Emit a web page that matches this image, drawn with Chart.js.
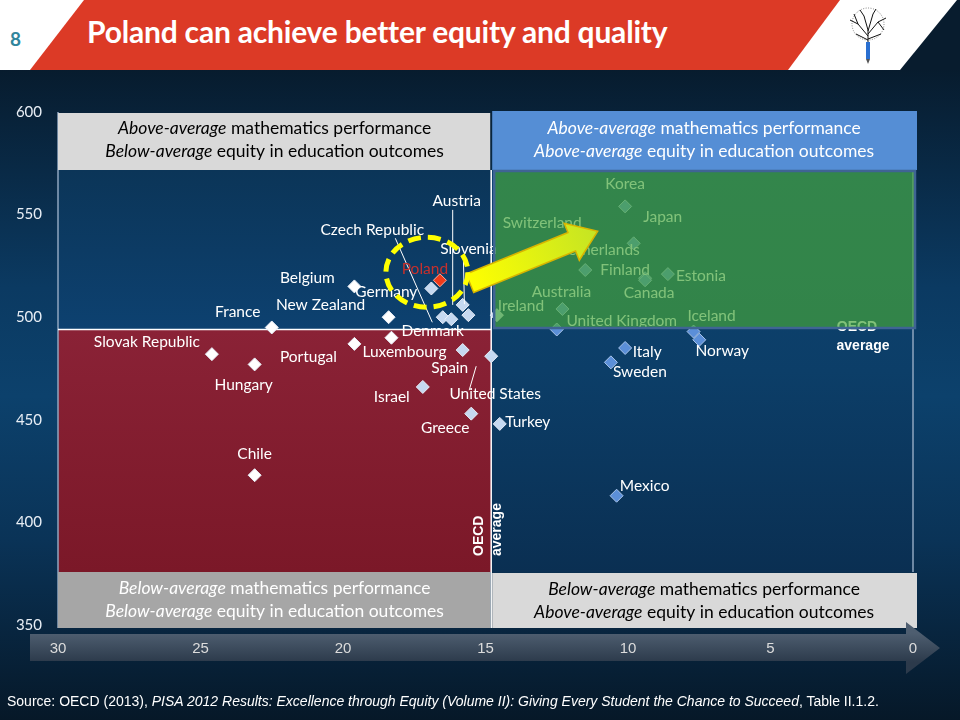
<!DOCTYPE html>
<html>
<head>
<meta charset="utf-8">
<script src="https://cdn.jsdelivr.net/npm/chart.js@4.4.0/dist/chart.umd.min.js"></script>
<style>
  html,body{margin:0;padding:0}
  body{width:960px;height:720px;position:relative;overflow:hidden;
    background:linear-gradient(180deg,#071a2b 8%,#0b3a62 40%,#0c416c 55%,#0a3357 75%,#061828 100%);
    font-family:Lato,"Open Sans",sans-serif}
  #head{position:absolute;left:0;top:0;width:960px;height:70px;background:#fff}
  #red{position:absolute;left:0;top:0;width:960px;height:70px;background:#dc3a26;
    clip-path:polygon(84px 0,840px 0,788px 70px,30px 70px)}
  #navy{position:absolute;left:0;top:0;width:960px;height:70px;background:#081c2e;
    clip-path:polygon(957px 0,960px 0,960px 70px,900px 70px)}
  #num{position:absolute;left:10px;top:27px;color:#31859c;font:bold 19px Lato,sans-serif}
  #title{position:absolute;left:87px;top:13px;color:#fff;font:bold 30px Lato,sans-serif;white-space:nowrap;letter-spacing:-0.2px}
  #logo{position:absolute;left:840px;top:6px}
  #chart{position:absolute;left:0;top:0}
  #src{position:absolute;left:7px;top:693px;color:#fff;font:14px "Liberation Sans Narrow","Liberation Sans",sans-serif;white-space:nowrap}
</style>
</head>
<body>
<div id="head"></div>
<div id="red"></div>
<div id="navy"></div>
<div id="num">8</div>
<div id="title">Poland can achieve better equity and quality</div>
<svg id="logo" width="56" height="60" viewBox="0 0 56 60">
  <g stroke="#111" stroke-width="1" fill="none">
    <path d="M28 40 L28 24 M28 30 L18 18 M28 28 L38 16 M28 24 L24 10 M28 25 L33 8 M18 18 L10 14 M18 18 L14 8 M38 16 L46 12 M38 16 L44 24 M24 10 L20 4 M33 8 L36 3 M28 34 L16 28 M28 33 L41 28"/>
  </g>
  <circle cx="28" cy="18" r="16" fill="none" stroke="#333" stroke-width="0.6" stroke-dasharray="1 1.5"/>
  <rect x="26" y="36" width="4" height="17" fill="#2a6fd0"/>
  <path d="M26 53 L28 58 L30 53 Z" fill="#555"/>
</svg>
<canvas id="chart" width="960" height="720"></canvas>
<div id="src">Source: OECD (2013), <i>PISA 2012 Results: Excellence through Equity (Volume II): Giving Every Student the Chance to Succeed</i>, Table II.1.2.</div>
<script>
// data
const countries = ["Korea","Japan","Switzerland","Netherlands","Finland","Estonia","Canada","Australia","Ireland","United Kingdom",
  "Iceland","Norway","Italy","Sweden","Mexico","Turkey","United States","Greece","Israel","Spain",
  "Luxembourg","Denmark","Portugal","Slovak Republic","Hungary","Chile","France","New Zealand","Belgium","Germany",
  "Poland","Czech Republic","Austria","Slovenia"];
const equity = [10.1,9.8,12.8,11.5,9.4,8.6,9.4,12.3,14.6,12.5,
  7.7,7.5,10.1,10.6,10.4,14.5,14.8,15.5,17.2,15.8,
  18.3,16.5,19.6,24.6,23.1,23.1,22.5,18.4,19.6,16.9,
  16.6,16.2,15.8,15.6];
const maths = [554,536,531,523,519,521,518,504,501,494,
  493,489,485,478,413,448,481,453,466,484,
  490,500,487,482,477,423,495,500,515,514,
  518,499,506,501];
const xTicks = [30,25,20,15,10,5,0];
const oecdEquity = 14.8, oecdMaths = 494;

// label offsets from each point (px)
const labelOff = [[0,-22],[29,-26],[-6,-31],[13,-20],[-20,-8],[33,2],[4,13],[-1,-17],[24,-9],[65,-9],
  [18,-16],[23,11],[22,4],[29,10],[28,-10],[28,-2],[4,38],[-26,14],[-31,10],[-13,18],
  [13,14],[-10,14],[-46,13],[-65,-12],[-11,21],[0,-21],[-34,-15],[-68,-12],[-47,-8],[-45,4],
  [-15,-11],[-79,-89],[-6,-104],[0,-66]];
// leader lines: [country, from, to] offsets from the point
const leaders = [["Austria",[-10,-95],[-10,0]],["Czech Republic",[-56,-81],[-19,3]],
  ["Slovenia",[-5,-57],[-4,-11]],["United States",[-15,10],[-22,34]]];

const pts = countries.map((c,i) => ({x: equity[i], y: maths[i]}));

function pointColor(ctx){
  const c = countries[ctx.dataIndex];
  if(c === "Poland") return "#f03a1a";
  const v = equity[ctx.dataIndex];
  if(v >= 17.5) return "#ffffff";
  if(v >= 14.4) return "#c6d9f1";
  return "#5b8fd8";
}
function pointBorder(ctx){
  const v = equity[ctx.dataIndex];
  if(countries[ctx.dataIndex] === "Poland") return "#ffb0a0";
  return v < 14.4 ? "#a9c4ea" : "#e8eef8";
}

function boxText(ctx, cx, y, lines, col){
  ctx.fillStyle = col;
  ctx.textBaseline = "middle";
  lines.forEach((ln, k) => {
    const it = "italic 17.5px Lato", rg = "17.5px Lato";
    ctx.font = it; const w1 = ctx.measureText(ln[0]).width;
    ctx.font = rg; const w2 = ctx.measureText(" " + ln[1]).width;
    let x = cx - (w1 + w2) / 2;
    ctx.textAlign = "left";
    ctx.font = it; ctx.fillText(ln[0], x, y + k*23);
    ctx.font = rg; ctx.fillText(" " + ln[1], x + w1, y + k*23);
  });
}

const backdrop = {
  id: "backdrop",
  beforeDraw(chart){
    const {ctx, chartArea: a, scales} = chart;
    const mx = scales.x.getPixelForValue(oecdEquity);
    const my = scales.y.getPixelForValue(oecdMaths);
    const top = 170, bot = 572;
    ctx.save();
    // upper left
    let g = ctx.createLinearGradient(0, top, 0, my);
    g.addColorStop(0, "#0b3558"); g.addColorStop(1, "#0d4170");
    ctx.fillStyle = g; ctx.fillRect(a.left, top, mx - a.left, my - top);
    // lower left (red)
    g = ctx.createLinearGradient(0, my, 0, bot);
    g.addColorStop(0, "#8a2236"); g.addColorStop(1, "#7b1828");
    ctx.fillStyle = g; ctx.fillRect(a.left, my, mx - a.left, bot - my);
    // right
    g = ctx.createLinearGradient(0, top, 0, bot);
    g.addColorStop(0, "#0d4472"); g.addColorStop(0.5, "#0c3e68"); g.addColorStop(1, "#0a2f52");
    ctx.fillStyle = g; ctx.fillRect(mx, top, a.right - mx, bot - top);
    ctx.strokeStyle = "#8fa6bf"; ctx.lineWidth = 1.5;
    ctx.beginPath(); ctx.moveTo(a.right, top); ctx.lineTo(a.right, bot); ctx.stroke();
    ctx.beginPath(); ctx.moveTo(a.left, a.top); ctx.lineTo(a.left, 628); ctx.stroke();
    // header boxes
    ctx.fillStyle = "#d9d9d9"; ctx.fillRect(a.left, a.top + 1, mx - a.left - 1, top - a.top - 1);
    ctx.fillStyle = "#558ed5"; ctx.fillRect(mx + 1, a.top - 1, 917 - mx - 1, top - a.top + 1);
    ctx.fillStyle = "#a6a6a6"; ctx.fillRect(a.left, bot, mx - a.left - 1, 628 - bot);
    ctx.fillStyle = "#d9d9d9"; ctx.fillRect(mx + 1, bot + 1, 917 - mx - 1, 628 - bot - 1);
    boxText(ctx, (a.left + mx)/2, 128, [["Above-average","mathematics performance"],["Below-average","equity in education outcomes"]], "#000");
    boxText(ctx, (mx + 917)/2, 128, [["Above-average","mathematics performance"],["Above-average","equity in education outcomes"]], "#fff");
    boxText(ctx, (a.left + mx)/2, 588, [["Below-average","mathematics performance"],["Below-average","equity in education outcomes"]], "#fff");
    boxText(ctx, (mx + 917)/2, 589, [["Below-average","mathematics performance"],["Above-average","equity in education outcomes"]], "#000");
    // average lines
    ctx.strokeStyle = "#ffffff"; ctx.lineWidth = 1.5;
    ctx.beginPath(); ctx.moveTo(a.left, my); ctx.lineTo(mx, my); ctx.stroke();
    ctx.beginPath(); ctx.moveTo(mx, top); ctx.lineTo(mx, 628); ctx.stroke();
    // x axis arrow bar
    g = ctx.createLinearGradient(0, 633, 0, 662);
    g.addColorStop(0, "#4e5e70"); g.addColorStop(1, "#2c3a4b");
    ctx.fillStyle = g;
    ctx.beginPath();
    ctx.moveTo(30, 634); ctx.lineTo(906, 634); ctx.lineTo(906, 622); ctx.lineTo(940, 648);
    ctx.lineTo(906, 674); ctx.lineTo(906, 661); ctx.lineTo(30, 661); ctx.closePath(); ctx.fill();
    ctx.restore();
  },
  afterDatasetsDraw(chart){
    const {ctx, scales} = chart;
    const meta = chart.getDatasetMeta(0).data;
    const mx = scales.x.getPixelForValue(oecdEquity);
    ctx.save();
    // leader lines
    ctx.strokeStyle = "#ffffff"; ctx.lineWidth = 1;
    leaders.forEach(([c, f, t]) => {
      const p = meta[countries.indexOf(c)];
      ctx.beginPath(); ctx.moveTo(p.x + f[0], p.y + f[1]); ctx.lineTo(p.x + t[0], p.y + t[1]); ctx.stroke();
    });
    // country labels
    ctx.font = "15.5px Lato"; ctx.textAlign = "center"; ctx.textBaseline = "middle";
    countries.forEach((c, i) => {
      const p = meta[i];
      ctx.fillStyle = c === "Poland" ? "#c8302c" : "#ffffff";
      ctx.fillText(c, p.x + labelOff[i][0], p.y + labelOff[i][1]);
    });
    // OECD average text
    ctx.fillStyle = "#ffffff"; ctx.font = "bold 14px 'Liberation Sans'";
    ctx.textAlign = "center"; ctx.textBaseline = "alphabetic";
    ctx.fillText("OECD", 857, 331);
    ctx.fillText("average", 863, 350);
    ctx.save();
    ctx.translate(mx - 8, 556); ctx.rotate(-Math.PI/2);
    ctx.textAlign = "left";
    ctx.fillText("OECD", 0, 0);
    ctx.fillText("average", 0, 18);
    ctx.restore();
    // green quadrant overlay
    ctx.fillStyle = "rgba(70,165,58,0.68)";
    ctx.fillRect(mx + 3, 171, 915 - mx - 3, 157);
    ctx.strokeStyle = "#3f6494"; ctx.lineWidth = 2.5;
    ctx.strokeRect(mx + 3, 171, 915 - mx - 3, 157);
    // arrow from Poland towards the top performers
    const pl = meta[countries.indexOf("Poland")];
    const ax = pl.x + 30, ay = pl.y + 3;
    const ang = Math.atan2(-53, 130), L = 138;
    ctx.save();
    ctx.translate(ax, ay); ctx.rotate(ang);
    const ag = ctx.createLinearGradient(0, 0, L, 0);
    ag.addColorStop(0, "#ffff00"); ag.addColorStop(1, "#c4e424");
    ctx.fillStyle = ag; ctx.strokeStyle = "#d8b400"; ctx.lineWidth = 1.5;
    ctx.beginPath();
    ctx.moveTo(0, -10); ctx.lineTo(L - 28, -10); ctx.lineTo(L - 28, -20); ctx.lineTo(L, 0);
    ctx.lineTo(L - 28, 20); ctx.lineTo(L - 28, 10); ctx.lineTo(0, 10); ctx.closePath();
    ctx.fill(); ctx.stroke();
    ctx.restore();
    // dashed ring around Poland
    ctx.strokeStyle = "#ffff00"; ctx.lineWidth = 5; ctx.setLineDash([13, 7]);
    ctx.beginPath(); ctx.ellipse(pl.x - 13, pl.y - 8, 41, 35, 0, 0, Math.PI*2); ctx.stroke();
    ctx.restore();
  }
};

new Chart(document.getElementById("chart"), {
  type: "scatter",
  data: { datasets: [{ data: pts, pointStyle: "rectRot", pointRadius: 6.5, pointHoverRadius: 6.5,
    backgroundColor: pointColor, borderColor: pointBorder, borderWidth: 1 }]},
  options: {
    responsive: false, animation: false, devicePixelRatio: 1,
    layout: { padding: { left: 0, top: 112, right: 47, bottom: 55 } },
    plugins: { legend: { display: false }, tooltip: { enabled: false } },
    scales: {
      x: { type: "linear", reverse: true, min: 0, max: 30,
        afterFit: s => { s.height = 40; },
        afterBuildTicks: s => { s.ticks = xTicks.map(v => ({value: v})); },
        grid: { display: false, drawTicks: false }, border: { display: false },
        ticks: { color: "#dcdcdc", font: { family: "Liberation Sans Narrow, Liberation Sans", size: 15 }, padding: 15, maxRotation: 0 } },
      y: { min: 350, max: 600,
        afterFit: s => { s.width = 58; },
        grid: { display: false, drawTicks: false }, border: { display: false },
        ticks: { stepSize: 50, color: "#e8eef5", font: { family: "Lato", size: 15 }, padding: 16 } }
    }
  },
  plugins: [backdrop]
});
</script>
</body>
</html>
